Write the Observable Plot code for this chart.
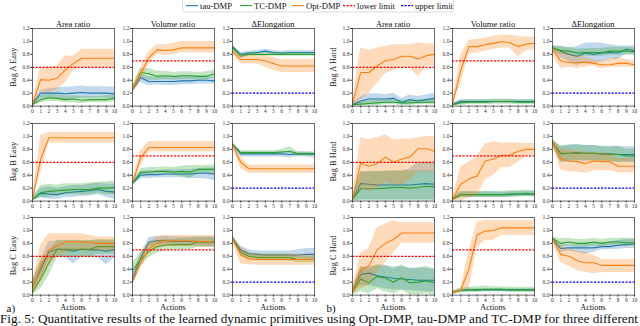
<!DOCTYPE html>
<html><head><meta charset="utf-8">
<script src="https://cdn.jsdelivr.net/npm/d3@7"></script>
<script src="https://cdn.jsdelivr.net/npm/@observablehq/plot@0.6"></script>
<style>
html,body{margin:0;padding:0;background:#fff;overflow:hidden;}
#root{position:relative;width:640px;height:326px;overflow:hidden;background:#fff;font-family:"Liberation Serif","Times New Roman",serif;}
.panel{position:absolute;}
.panel svg{display:block;}
#overlay{position:absolute;left:0;top:0;pointer-events:none;}
</style></head><body><div id="root"></div>
<script>
// ---------- shared labels ----------
const actions = [0,1,2,3,4,5,6,7,8,9,10];
const yTicks = [0,0.2,0.4,0.6,0.8,1.0,1.2];
const metricTitles = ["Area ratio","Volume ratio","\u0394Elongation"];
const limitValues = [0.6, 0.7, 0.2];          // lower, lower, upper
const seriesNames = ["tau-DMP","TC-DMP","Opt-DMP"];
const limitNames = ["lower limit","upper limit"];
const caption = "Fig. 5: Quantitative results of the learned dynamic primitives using Opt-DMP, tau-DMP and TC-DMP for three different";

// ---------- Bag A Easy ----------
const AE_area_tau    = [0.03,0.20,0.20,0.20,0.19,0.20,0.21,0.20,0.20,0.20,0.19];
const AE_area_tau_lo = [0.00,0.12,0.12,0.12,0.10,0.11,0.12,0.12,0.12,0.12,0.11];
const AE_area_tau_hi = [0.06,0.24,0.27,0.28,0.29,0.30,0.31,0.30,0.30,0.30,0.29];
const AE_area_tc     = [0.02,0.10,0.13,0.12,0.10,0.11,0.09,0.10,0.10,0.10,0.12];
const AE_area_tc_lo  = [0.00,0.05,0.07,0.07,0.05,0.05,0.04,0.05,0.05,0.05,0.07];
const AE_area_tc_hi  = [0.04,0.16,0.20,0.17,0.16,0.16,0.15,0.15,0.15,0.16,0.18];
const AE_area_opt    = [0.03,0.41,0.40,0.43,0.56,0.66,0.74,0.74,0.74,0.74,0.74];
const AE_area_opt_lo = [0.00,0.22,0.20,0.25,0.36,0.55,0.60,0.60,0.60,0.60,0.60];
const AE_area_opt_hi = [0.06,0.60,0.60,0.62,0.78,0.77,0.88,0.88,0.88,0.88,0.88];

const AE_vol_tau     = [0.25,0.44,0.38,0.38,0.38,0.38,0.39,0.39,0.40,0.40,0.39];
const AE_vol_tau_lo  = [0.22,0.36,0.32,0.33,0.32,0.32,0.33,0.33,0.34,0.34,0.34];
const AE_vol_tau_hi  = [0.28,0.50,0.45,0.45,0.45,0.45,0.46,0.46,0.46,0.46,0.45];
const AE_vol_tc      = [0.27,0.52,0.50,0.46,0.47,0.46,0.47,0.47,0.46,0.46,0.50];
const AE_vol_tc_lo   = [0.23,0.44,0.40,0.40,0.41,0.40,0.41,0.41,0.40,0.40,0.44];
const AE_vol_tc_hi   = [0.31,0.58,0.58,0.54,0.54,0.52,0.53,0.53,0.52,0.53,0.56];
const AE_vol_opt     = [0.25,0.50,0.75,0.87,0.86,0.87,0.90,0.90,0.90,0.90,0.90];
const AE_vol_opt_lo  = [0.20,0.40,0.65,0.80,0.78,0.80,0.82,0.82,0.82,0.82,0.82];
const AE_vol_opt_hi  = [0.30,0.60,0.85,0.95,0.95,0.97,1.00,1.00,1.00,1.00,1.00];

const AE_elo_tau     = [0.92,0.80,0.82,0.83,0.85,0.83,0.82,0.83,0.83,0.83,0.83];
const AE_elo_tau_lo  = [0.89,0.77,0.79,0.80,0.82,0.80,0.79,0.80,0.80,0.80,0.80];
const AE_elo_tau_hi  = [0.95,0.83,0.85,0.86,0.88,0.86,0.85,0.86,0.86,0.86,0.86];
const AE_elo_tc      = [0.90,0.77,0.80,0.80,0.80,0.80,0.80,0.80,0.80,0.80,0.80];
const AE_elo_tc_lo   = [0.87,0.74,0.77,0.77,0.77,0.77,0.77,0.77,0.77,0.77,0.77];
const AE_elo_tc_hi   = [0.93,0.80,0.83,0.83,0.83,0.83,0.83,0.83,0.83,0.83,0.83];
const AE_elo_opt     = [0.85,0.72,0.72,0.72,0.70,0.66,0.62,0.62,0.62,0.62,0.62];
const AE_elo_opt_lo  = [0.80,0.65,0.65,0.65,0.60,0.55,0.52,0.52,0.52,0.52,0.52];
const AE_elo_opt_hi  = [0.88,0.78,0.78,0.78,0.78,0.75,0.72,0.72,0.72,0.72,0.72];

// ---------- Bag B Easy ----------
const BE_area_tau    = [0.03,0.12,0.11,0.10,0.13,0.14,0.15,0.16,0.18,0.15,0.14];
const BE_area_tau_lo = [0.00,0.05,0.03,0.03,0.05,0.06,0.07,0.08,0.10,0.06,0.03];
const BE_area_tau_hi = [0.06,0.20,0.22,0.20,0.22,0.24,0.24,0.26,0.28,0.26,0.26];
const BE_area_tc     = [0.03,0.13,0.15,0.16,0.17,0.18,0.18,0.18,0.20,0.20,0.21];
const BE_area_tc_lo  = [0.00,0.05,0.06,0.08,0.10,0.10,0.10,0.10,0.12,0.10,0.10];
const BE_area_tc_hi  = [0.06,0.24,0.26,0.25,0.27,0.27,0.27,0.28,0.29,0.30,0.31];
const BE_area_opt    = [0.03,0.65,0.98,0.98,0.98,0.98,0.98,0.98,0.98,0.98,0.98];
const BE_area_opt_lo = [0.00,0.45,0.90,0.90,0.90,0.90,0.90,0.90,0.90,0.90,0.90];
const BE_area_opt_hi = [0.06,1.02,1.06,1.06,1.06,1.06,1.06,1.06,1.06,1.06,1.06];

const BE_vol_tau     = [0.27,0.40,0.41,0.41,0.42,0.42,0.42,0.42,0.43,0.43,0.42];
const BE_vol_tau_lo  = [0.24,0.35,0.35,0.36,0.36,0.36,0.36,0.35,0.35,0.34,0.32];
const BE_vol_tau_hi  = [0.30,0.46,0.47,0.47,0.48,0.48,0.48,0.49,0.50,0.51,0.51];
const BE_vol_tc      = [0.28,0.44,0.45,0.46,0.46,0.45,0.46,0.45,0.49,0.49,0.49];
const BE_vol_tc_lo   = [0.25,0.39,0.41,0.42,0.42,0.40,0.38,0.35,0.42,0.42,0.42];
const BE_vol_tc_hi   = [0.31,0.50,0.52,0.52,0.53,0.52,0.54,0.55,0.55,0.55,0.56];
const BE_vol_opt     = [0.28,0.67,0.83,0.83,0.83,0.83,0.83,0.83,0.83,0.83,0.83];
const BE_vol_opt_lo  = [0.25,0.55,0.76,0.76,0.76,0.76,0.76,0.76,0.76,0.76,0.76];
const BE_vol_opt_hi  = [0.32,0.78,0.92,0.92,0.92,0.92,0.92,0.92,0.92,0.92,0.92];

const BE_elo_tau     = [0.88,0.73,0.73,0.73,0.73,0.73,0.73,0.72,0.73,0.73,0.72];
const BE_elo_tau_lo  = [0.84,0.68,0.68,0.68,0.68,0.68,0.68,0.67,0.68,0.68,0.67];
const BE_elo_tau_hi  = [0.91,0.76,0.76,0.76,0.76,0.76,0.76,0.75,0.76,0.76,0.75];
const BE_elo_tc      = [0.88,0.75,0.75,0.75,0.75,0.75,0.76,0.77,0.73,0.73,0.73];
const BE_elo_tc_lo   = [0.85,0.72,0.72,0.72,0.72,0.72,0.73,0.74,0.70,0.70,0.70];
const BE_elo_tc_hi   = [0.90,0.78,0.78,0.78,0.78,0.78,0.80,0.84,0.76,0.76,0.76];
const BE_elo_opt     = [0.87,0.60,0.50,0.50,0.50,0.50,0.50,0.50,0.50,0.50,0.50];
const BE_elo_opt_lo  = [0.84,0.50,0.43,0.43,0.43,0.43,0.43,0.43,0.43,0.43,0.43];
const BE_elo_opt_hi  = [0.90,0.68,0.56,0.56,0.56,0.56,0.56,0.56,0.56,0.56,0.56];

// ---------- Bag C Easy ----------
const CE_area_tau    = [0.12,0.40,0.67,0.71,0.70,0.68,0.71,0.70,0.70,0.68,0.70];
const CE_area_tau_lo = [0.05,0.25,0.55,0.58,0.58,0.48,0.58,0.58,0.58,0.47,0.57];
const CE_area_tau_hi = [0.20,0.55,0.82,0.84,0.84,0.84,0.84,0.84,0.86,0.84,0.84];
const CE_area_tc     = [0.05,0.25,0.50,0.71,0.71,0.71,0.71,0.71,0.75,0.75,0.75];
const CE_area_tc_lo  = [0.00,0.10,0.30,0.58,0.58,0.58,0.58,0.58,0.63,0.63,0.63];
const CE_area_tc_hi  = [0.25,0.50,0.65,0.85,0.85,0.85,0.84,0.84,0.85,0.86,0.86];
const CE_area_opt    = [0.10,0.45,0.70,0.76,0.82,0.83,0.82,0.82,0.80,0.80,0.80];
const CE_area_opt_lo = [0.00,0.20,0.45,0.60,0.65,0.68,0.68,0.68,0.68,0.68,0.68];
const CE_area_opt_hi = [0.20,0.78,0.95,0.95,0.95,0.95,0.95,0.92,0.90,0.90,0.90];

const CE_vol_tau     = [0.25,0.57,0.82,0.84,0.84,0.83,0.83,0.83,0.83,0.82,0.82];
const CE_vol_tau_lo  = [0.18,0.50,0.75,0.77,0.77,0.76,0.76,0.76,0.76,0.75,0.75];
const CE_vol_tau_hi  = [0.32,0.64,0.89,0.91,0.91,0.90,0.90,0.90,0.90,0.89,0.89];
const CE_vol_tc      = [0.38,0.55,0.68,0.75,0.77,0.78,0.78,0.78,0.82,0.82,0.82];
const CE_vol_tc_lo   = [0.30,0.45,0.58,0.65,0.68,0.70,0.70,0.70,0.74,0.74,0.74];
const CE_vol_tc_hi   = [0.50,0.65,0.80,0.85,0.86,0.86,0.87,0.88,0.90,0.90,0.90];
const CE_vol_opt     = [0.20,0.50,0.72,0.80,0.84,0.84,0.84,0.84,0.83,0.83,0.82];
const CE_vol_opt_lo  = [0.15,0.42,0.62,0.72,0.75,0.75,0.75,0.75,0.74,0.74,0.74];
const CE_vol_opt_hi  = [0.25,0.60,0.82,0.90,0.92,0.92,0.92,0.92,0.92,0.92,0.92];

const CE_elo_tau     = [0.88,0.70,0.64,0.63,0.62,0.62,0.62,0.62,0.62,0.63,0.63];
const CE_elo_tau_lo  = [0.84,0.63,0.58,0.57,0.57,0.57,0.57,0.57,0.57,0.55,0.55];
const CE_elo_tau_hi  = [0.92,0.76,0.70,0.68,0.68,0.68,0.68,0.68,0.70,0.72,0.72];
const CE_elo_tc      = [0.88,0.66,0.60,0.58,0.58,0.58,0.58,0.58,0.55,0.55,0.55];
const CE_elo_tc_lo   = [0.84,0.61,0.55,0.53,0.53,0.53,0.53,0.53,0.50,0.50,0.50];
const CE_elo_tc_hi   = [0.92,0.71,0.65,0.63,0.63,0.63,0.63,0.63,0.60,0.60,0.60];
const CE_elo_opt     = [0.87,0.62,0.56,0.55,0.55,0.55,0.55,0.55,0.55,0.55,0.55];
const CE_elo_opt_lo  = [0.82,0.48,0.47,0.46,0.46,0.46,0.46,0.46,0.46,0.46,0.46];
const CE_elo_opt_hi  = [0.92,0.74,0.66,0.63,0.63,0.63,0.63,0.63,0.63,0.62,0.62];

// ---------- Bag A Hard ----------
const AH_area_tau    = [0.02,0.08,0.11,0.11,0.11,0.12,0.06,0.10,0.08,0.10,0.12];
const AH_area_tau_lo = [0.00,0.03,0.04,0.04,0.04,0.05,0.02,0.04,0.03,0.04,0.05];
const AH_area_tau_hi = [0.04,0.15,0.19,0.19,0.18,0.20,0.12,0.17,0.15,0.17,0.20];
const AH_area_tc     = [0.02,0.03,0.04,0.05,0.06,0.06,0.05,0.05,0.06,0.06,0.06];
const AH_area_tc_lo  = [0.00,0.00,0.01,0.01,0.02,0.02,0.01,0.01,0.02,0.02,0.02];
const AH_area_tc_hi  = [0.04,0.07,0.08,0.09,0.10,0.10,0.09,0.09,0.10,0.10,0.10];
const AH_area_opt    = [0.03,0.52,0.52,0.62,0.70,0.72,0.77,0.77,0.73,0.78,0.80];
const AH_area_opt_lo = [0.00,0.10,0.20,0.35,0.50,0.55,0.60,0.60,0.45,0.62,0.62];
const AH_area_opt_hi = [0.06,0.90,0.86,0.90,0.92,0.95,0.95,0.95,0.98,0.96,0.96];

const AH_vol_tau     = [0.03,0.07,0.07,0.07,0.07,0.07,0.07,0.07,0.07,0.07,0.07];
const AH_vol_tau_lo  = [0.01,0.04,0.04,0.04,0.04,0.04,0.04,0.04,0.04,0.04,0.04];
const AH_vol_tau_hi  = [0.05,0.10,0.10,0.10,0.10,0.10,0.10,0.10,0.10,0.10,0.10];
const AH_vol_tc      = [0.02,0.05,0.06,0.06,0.06,0.07,0.07,0.07,0.06,0.06,0.06];
const AH_vol_tc_lo   = [0.00,0.01,0.02,0.02,0.02,0.03,0.03,0.03,0.02,0.02,0.02];
const AH_vol_tc_hi   = [0.04,0.09,0.10,0.10,0.10,0.11,0.11,0.11,0.10,0.10,0.10];
const AH_vol_opt     = [0.03,0.55,0.92,0.92,0.95,0.97,1.00,0.98,0.92,0.96,0.97];
const AH_vol_opt_lo  = [0.00,0.35,0.80,0.82,0.85,0.88,0.90,0.90,0.76,0.86,0.87];
const AH_vol_opt_hi  = [0.06,0.78,1.02,1.03,1.05,1.08,1.10,1.10,1.08,1.07,1.07];

const AH_elo_tau     = [0.90,0.85,0.80,0.77,0.82,0.80,0.82,0.83,0.82,0.88,0.86];
const AH_elo_tau_lo  = [0.85,0.75,0.68,0.62,0.68,0.65,0.68,0.72,0.72,0.80,0.80];
const AH_elo_tau_hi  = [0.93,0.92,0.90,0.92,0.97,0.98,0.97,0.95,0.93,0.93,0.93];
const AH_elo_tc      = [0.90,0.86,0.85,0.82,0.83,0.83,0.83,0.85,0.85,0.85,0.84];
const AH_elo_tc_lo   = [0.86,0.80,0.79,0.76,0.77,0.77,0.77,0.79,0.79,0.79,0.78];
const AH_elo_tc_hi   = [0.94,0.92,0.91,0.88,0.89,0.89,0.89,0.91,0.91,0.91,0.90];
const AH_elo_opt     = [0.88,0.70,0.67,0.67,0.68,0.66,0.64,0.64,0.66,0.66,0.64];
const AH_elo_opt_lo  = [0.80,0.58,0.60,0.58,0.60,0.62,0.58,0.60,0.60,0.60,0.60];
const AH_elo_opt_hi  = [0.92,0.85,0.80,0.78,0.75,0.72,0.70,0.72,0.75,0.72,0.70];

// ---------- Bag B Hard ----------
const BH_area_tau    = [0.03,0.27,0.26,0.25,0.25,0.25,0.25,0.25,0.26,0.27,0.26];
const BH_area_tau_lo = [0.00,0.02,0.02,0.02,0.02,0.02,0.02,0.02,0.02,0.02,0.02];
const BH_area_tau_hi = [0.06,0.45,0.45,0.45,0.46,0.46,0.46,0.50,0.60,0.60,0.60];
const BH_area_tc     = [0.03,0.19,0.19,0.19,0.20,0.21,0.21,0.20,0.21,0.23,0.22];
const BH_area_tc_lo  = [0.00,0.00,0.00,0.00,0.00,0.00,0.00,0.00,0.00,0.00,0.00];
const BH_area_tc_hi  = [0.06,0.45,0.46,0.46,0.46,0.47,0.47,0.47,0.47,0.47,0.47];
const BH_area_opt    = [0.03,0.59,0.54,0.58,0.68,0.60,0.65,0.68,0.81,0.81,0.77];
const BH_area_opt_lo = [0.00,0.20,0.14,0.20,0.30,0.25,0.25,0.32,0.45,0.45,0.45];
const BH_area_opt_hi = [0.06,0.98,0.95,0.98,1.03,0.95,0.96,0.96,0.98,1.00,1.00];

const BH_vol_tau     = [0.03,0.10,0.10,0.10,0.10,0.10,0.10,0.10,0.11,0.11,0.11];
const BH_vol_tau_lo  = [0.01,0.06,0.06,0.06,0.06,0.06,0.06,0.06,0.07,0.07,0.07];
const BH_vol_tau_hi  = [0.05,0.14,0.14,0.14,0.14,0.14,0.14,0.14,0.15,0.15,0.15];
const BH_vol_tc      = [0.03,0.10,0.10,0.10,0.10,0.10,0.10,0.11,0.11,0.12,0.11];
const BH_vol_tc_lo   = [0.00,0.05,0.05,0.05,0.05,0.05,0.05,0.06,0.06,0.07,0.06];
const BH_vol_tc_hi   = [0.06,0.15,0.15,0.15,0.15,0.15,0.15,0.16,0.16,0.17,0.16];
const BH_vol_opt     = [0.03,0.26,0.34,0.39,0.62,0.65,0.71,0.71,0.77,0.80,0.80];
const BH_vol_opt_lo  = [0.00,0.00,0.05,0.07,0.33,0.40,0.52,0.52,0.60,0.70,0.72];
const BH_vol_opt_hi  = [0.06,0.53,0.60,0.70,0.88,0.92,0.90,0.90,0.90,0.89,0.89];

const BH_elo_tau     = [0.90,0.74,0.74,0.75,0.74,0.74,0.73,0.73,0.72,0.72,0.72];
const BH_elo_tau_lo  = [0.85,0.60,0.60,0.62,0.62,0.62,0.62,0.62,0.60,0.60,0.60];
const BH_elo_tau_hi  = [0.95,0.85,0.87,0.87,0.86,0.86,0.85,0.85,0.85,0.84,0.84];
const BH_elo_tc      = [0.90,0.73,0.74,0.74,0.74,0.74,0.73,0.72,0.72,0.70,0.70];
const BH_elo_tc_lo   = [0.85,0.60,0.62,0.62,0.62,0.62,0.60,0.60,0.60,0.60,0.60];
const BH_elo_tc_hi   = [0.95,0.85,0.86,0.87,0.86,0.86,0.84,0.83,0.85,0.80,0.80];
const BH_elo_opt     = [0.92,0.65,0.62,0.61,0.58,0.62,0.61,0.61,0.54,0.54,0.54];
const BH_elo_opt_lo  = [0.88,0.48,0.45,0.45,0.43,0.47,0.47,0.47,0.44,0.44,0.44];
const BH_elo_opt_hi  = [0.95,0.82,0.79,0.78,0.75,0.75,0.74,0.74,0.66,0.66,0.66];

// ---------- Bag C Hard ----------
const CH_area_tau    = [0.07,0.32,0.34,0.30,0.28,0.26,0.25,0.24,0.23,0.23,0.23];
const CH_area_tau_lo = [0.03,0.15,0.15,0.12,0.10,0.08,0.08,0.07,0.06,0.05,0.05];
const CH_area_tau_hi = [0.12,0.42,0.45,0.45,0.45,0.44,0.44,0.42,0.42,0.41,0.40];
const CH_area_tc     = [0.05,0.25,0.19,0.29,0.26,0.20,0.27,0.19,0.20,0.22,0.19];
const CH_area_tc_lo  = [0.00,0.05,0.02,0.10,0.05,0.02,0.08,0.00,0.00,0.02,0.00];
const CH_area_tc_hi  = [0.10,0.45,0.40,0.47,0.46,0.40,0.47,0.40,0.42,0.45,0.40];
const CH_area_opt    = [0.05,0.38,0.45,0.70,0.80,0.86,0.96,0.96,0.96,0.96,0.96];
const CH_area_opt_lo = [0.00,0.10,0.15,0.35,0.50,0.65,0.80,0.80,0.80,0.80,0.80];
const CH_area_opt_hi = [0.12,0.65,0.72,1.04,1.10,1.15,1.12,1.12,1.12,1.12,1.12];

const CH_vol_tau     = [0.04,0.07,0.08,0.08,0.08,0.08,0.08,0.08,0.08,0.08,0.08];
const CH_vol_tau_lo  = [0.02,0.05,0.06,0.06,0.06,0.06,0.06,0.06,0.06,0.06,0.06];
const CH_vol_tau_hi  = [0.06,0.09,0.10,0.10,0.10,0.10,0.10,0.10,0.10,0.10,0.10];
const CH_vol_tc      = [0.04,0.07,0.08,0.08,0.09,0.09,0.09,0.08,0.08,0.08,0.08];
const CH_vol_tc_lo   = [0.01,0.03,0.04,0.04,0.05,0.05,0.05,0.04,0.04,0.04,0.04];
const CH_vol_tc_hi   = [0.07,0.11,0.12,0.13,0.14,0.13,0.13,0.12,0.12,0.12,0.12];
const CH_vol_opt     = [0.03,0.08,0.40,0.93,0.99,1.00,1.04,1.04,1.04,1.04,1.04];
const CH_vol_opt_lo  = [0.02,0.05,0.10,0.73,0.85,0.85,0.92,0.92,0.92,0.92,0.92];
const CH_vol_opt_hi  = [0.05,0.10,0.68,1.13,1.15,1.15,1.15,1.15,1.15,1.15,1.15];

const CH_elo_tau     = [0.87,0.72,0.73,0.73,0.73,0.73,0.75,0.75,0.77,0.78,0.79];
const CH_elo_tau_lo  = [0.84,0.66,0.68,0.66,0.63,0.66,0.70,0.70,0.71,0.72,0.72];
const CH_elo_tau_hi  = [0.90,0.78,0.78,0.78,0.80,0.80,0.80,0.82,0.84,0.86,0.86];
const CH_elo_tc      = [0.88,0.80,0.82,0.80,0.80,0.82,0.80,0.82,0.82,0.81,0.81];
const CH_elo_tc_lo   = [0.84,0.74,0.76,0.74,0.74,0.76,0.74,0.76,0.76,0.76,0.76];
const CH_elo_tc_hi   = [0.90,0.87,0.88,0.86,0.86,0.88,0.86,0.88,0.88,0.88,0.88];
const CH_elo_opt     = [0.86,0.63,0.60,0.53,0.50,0.50,0.46,0.46,0.46,0.46,0.46];
const CH_elo_opt_lo  = [0.82,0.50,0.45,0.38,0.35,0.33,0.35,0.35,0.35,0.35,0.35];
const CH_elo_opt_hi  = [0.90,0.75,0.72,0.68,0.66,0.62,0.55,0.55,0.55,0.55,0.55];

// ---------- panel table: [bag label, half (a/b), row, metric, tau, TC, Opt] ----------
const panels = [
  ["Bag A Easy",0,0,0,[AE_area_tau,AE_area_tau_lo,AE_area_tau_hi],[AE_area_tc,AE_area_tc_lo,AE_area_tc_hi],[AE_area_opt,AE_area_opt_lo,AE_area_opt_hi]],
  ["Bag A Easy",0,0,1,[AE_vol_tau,AE_vol_tau_lo,AE_vol_tau_hi],[AE_vol_tc,AE_vol_tc_lo,AE_vol_tc_hi],[AE_vol_opt,AE_vol_opt_lo,AE_vol_opt_hi]],
  ["Bag A Easy",0,0,2,[AE_elo_tau,AE_elo_tau_lo,AE_elo_tau_hi],[AE_elo_tc,AE_elo_tc_lo,AE_elo_tc_hi],[AE_elo_opt,AE_elo_opt_lo,AE_elo_opt_hi]],
  ["Bag B Easy",0,1,0,[BE_area_tau,BE_area_tau_lo,BE_area_tau_hi],[BE_area_tc,BE_area_tc_lo,BE_area_tc_hi],[BE_area_opt,BE_area_opt_lo,BE_area_opt_hi]],
  ["Bag B Easy",0,1,1,[BE_vol_tau,BE_vol_tau_lo,BE_vol_tau_hi],[BE_vol_tc,BE_vol_tc_lo,BE_vol_tc_hi],[BE_vol_opt,BE_vol_opt_lo,BE_vol_opt_hi]],
  ["Bag B Easy",0,1,2,[BE_elo_tau,BE_elo_tau_lo,BE_elo_tau_hi],[BE_elo_tc,BE_elo_tc_lo,BE_elo_tc_hi],[BE_elo_opt,BE_elo_opt_lo,BE_elo_opt_hi]],
  ["Bag C Easy",0,2,0,[CE_area_tau,CE_area_tau_lo,CE_area_tau_hi],[CE_area_tc,CE_area_tc_lo,CE_area_tc_hi],[CE_area_opt,CE_area_opt_lo,CE_area_opt_hi]],
  ["Bag C Easy",0,2,1,[CE_vol_tau,CE_vol_tau_lo,CE_vol_tau_hi],[CE_vol_tc,CE_vol_tc_lo,CE_vol_tc_hi],[CE_vol_opt,CE_vol_opt_lo,CE_vol_opt_hi]],
  ["Bag C Easy",0,2,2,[CE_elo_tau,CE_elo_tau_lo,CE_elo_tau_hi],[CE_elo_tc,CE_elo_tc_lo,CE_elo_tc_hi],[CE_elo_opt,CE_elo_opt_lo,CE_elo_opt_hi]],
  ["Bag A Hard",1,0,0,[AH_area_tau,AH_area_tau_lo,AH_area_tau_hi],[AH_area_tc,AH_area_tc_lo,AH_area_tc_hi],[AH_area_opt,AH_area_opt_lo,AH_area_opt_hi]],
  ["Bag A Hard",1,0,1,[AH_vol_tau,AH_vol_tau_lo,AH_vol_tau_hi],[AH_vol_tc,AH_vol_tc_lo,AH_vol_tc_hi],[AH_vol_opt,AH_vol_opt_lo,AH_vol_opt_hi]],
  ["Bag A Hard",1,0,2,[AH_elo_tau,AH_elo_tau_lo,AH_elo_tau_hi],[AH_elo_tc,AH_elo_tc_lo,AH_elo_tc_hi],[AH_elo_opt,AH_elo_opt_lo,AH_elo_opt_hi]],
  ["Bag B Hard",1,1,0,[BH_area_tau,BH_area_tau_lo,BH_area_tau_hi],[BH_area_tc,BH_area_tc_lo,BH_area_tc_hi],[BH_area_opt,BH_area_opt_lo,BH_area_opt_hi]],
  ["Bag B Hard",1,1,1,[BH_vol_tau,BH_vol_tau_lo,BH_vol_tau_hi],[BH_vol_tc,BH_vol_tc_lo,BH_vol_tc_hi],[BH_vol_opt,BH_vol_opt_lo,BH_vol_opt_hi]],
  ["Bag B Hard",1,1,2,[BH_elo_tau,BH_elo_tau_lo,BH_elo_tau_hi],[BH_elo_tc,BH_elo_tc_lo,BH_elo_tc_hi],[BH_elo_opt,BH_elo_opt_lo,BH_elo_opt_hi]],
  ["Bag C Hard",1,2,0,[CH_area_tau,CH_area_tau_lo,CH_area_tau_hi],[CH_area_tc,CH_area_tc_lo,CH_area_tc_hi],[CH_area_opt,CH_area_opt_lo,CH_area_opt_hi]],
  ["Bag C Hard",1,2,1,[CH_vol_tau,CH_vol_tau_lo,CH_vol_tau_hi],[CH_vol_tc,CH_vol_tc_lo,CH_vol_tc_hi],[CH_vol_opt,CH_vol_opt_lo,CH_vol_opt_hi]],
  ["Bag C Hard",1,2,2,[CH_elo_tau,CH_elo_tau_lo,CH_elo_tau_hi],[CH_elo_tc,CH_elo_tc_lo,CH_elo_tc_hi],[CH_elo_opt,CH_elo_opt_lo,CH_elo_opt_hi]]
];

// ---------- styling / layout ----------
const colors = ["#1f77b4","#2ca02c","#ff7f0e"];
const limitColors = ["#ff0000","#0000ff"];
const colX = [32,132,232,352,452,552];
const rowY = [28.3,122.7,216.7];
const PW = 82, PH = 77.6;
const mL = 20, mR = 3, mT = 3, mB = 10;

const root = document.getElementById("root");

function table(s){ return actions.map((a,i)=>({x:a, m:s[0][i], lo:s[1][i], hi:s[2][i]})); }

panels.forEach(([bag, half, row, metric, tau, tc, opt]) => {
  const marks = [];
  [tau, tc, opt].forEach((s,k) => {
    const d = table(s);
    marks.push(Plot.areaY(d, {x:"x", y1:"lo", y2:"hi", fill:colors[k], fillOpacity:0.28}));
    marks.push(Plot.lineY(d, {x:"x", y:"m", stroke:colors[k], strokeWidth:1.1}));
  });
  marks.push(Plot.ruleY([limitValues[metric]], {stroke: limitColors[metric===2?1:0], strokeWidth:1.2, strokeDasharray:"2.2,1.3"}));
  marks.push(Plot.frame({stroke:"#444", strokeWidth:0.8}));
  const chart = Plot.plot({
    width: PW+mL+mR, height: PH+mT+mB,
    marginLeft:mL, marginRight:mR, marginTop:mT, marginBottom:mB,
    x:{domain:[0,10], ticks:actions, tickFormat:"d", tickSize:2, tickPadding:1, label:null},
    y:{domain:[0,1.2], ticks:yTicks, tickFormat:".1f", tickSize:2, tickPadding:1, label:null},
    style:{fontSize:"5.6px", fontFamily:"Liberation Serif, serif", color:"#333", background:"transparent", overflow:"visible"},
    marks
  });
  const div = document.createElement("div");
  div.className = "panel";
  div.style.left = (colX[half*3+metric]-mL)+"px";
  div.style.top = (rowY[row]-mT)+"px";
  div.appendChild(chart);
  root.appendChild(div);
});

// ---------- overlay text: titles, row labels, legend, caption ----------
const svg = d3.select(root).append("svg").attr("id","overlay").attr("width",640).attr("height",326)
  .style("font-family","Liberation Serif, Times New Roman, serif").style("fill","#111");

[0,1].forEach(half => {
  metricTitles.forEach((t,m) => {
    svg.append("text").attr("x", colX[half*3+m]+PW/2).attr("y",26.6).attr("text-anchor","middle")
      .style("font-size","8.6px").text(t);
    svg.append("text").attr("x", colX[half*3+m]+PW/2).attr("y",310).attr("text-anchor","middle")
      .style("font-size","8.2px").text("Actions");
  });
  [0,1,2].forEach(r => {
    const label = panels.find(p => p[1]===half && p[2]===r)[0];
    const cx = half===0 ? 16.4 : 336.4, cy = rowY[r]+PH/2;
    svg.append("text").attr("transform",`translate(${cx},${cy}) rotate(-90)`).attr("text-anchor","middle")
      .style("font-size","8.4px").text(label);
  });
});
svg.append("text").attr("x",6.5).attr("y",311.5).style("font-size","11px").text("a)");
svg.append("text").attr("x",326.5).attr("y",311.5).style("font-size","11px").text("b)");
svg.append("text").attr("x",0).attr("y",323).attr("textLength",638).attr("lengthAdjust","spacingAndGlyphs")
  .style("font-size","11.5px").text(caption);

// legend
const lg = svg.append("g");
lg.append("rect").attr("x",182.5).attr("y",-2).attr("width",271).attr("height",14).attr("rx",2)
  .attr("fill","#fff").attr("fill-opacity",0.85).attr("stroke","#d0d0d0").attr("stroke-width",0.8);
const items = [
  {label:seriesNames[0], color:colors[0], dash:null, x:186},
  {label:seriesNames[1], color:colors[1], dash:null, x:240},
  {label:seriesNames[2], color:colors[2], dash:null, x:292},
  {label:limitNames[0], color:limitColors[0], dash:"2.2,1.3", x:343},
  {label:limitNames[1], color:limitColors[1], dash:"2.2,1.3", x:401}
];
items.forEach(it => {
  lg.append("line").attr("x1",it.x).attr("x2",it.x+12).attr("y1",5.6).attr("y2",5.6)
    .attr("stroke",it.color).attr("stroke-width",1.1).attr("stroke-dasharray",it.dash);
  lg.append("text").attr("x",it.x+14).attr("y",8.6).style("font-size","8.6px").text(it.label);
});
</script></body></html>
